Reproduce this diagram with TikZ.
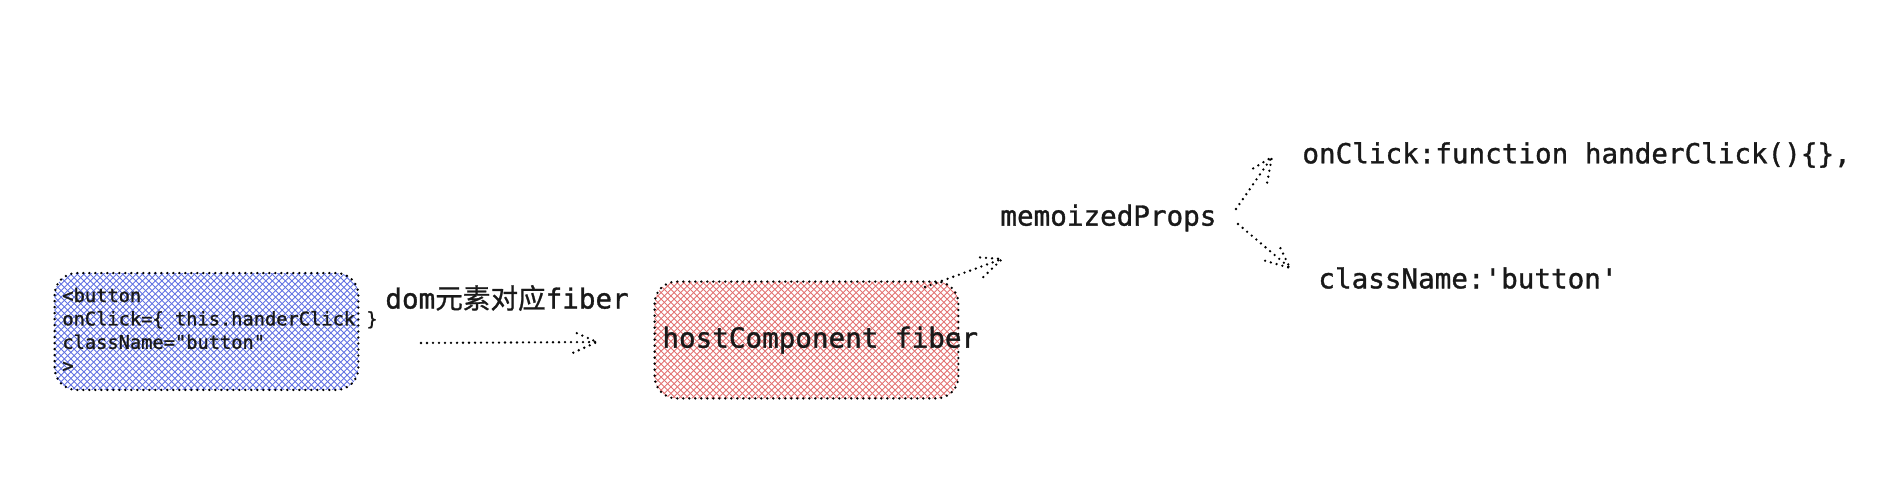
\documentclass[tikz,border=0pt]{standalone}
\usepackage{fontspec}
\newfontfamily\codefont{DejaVu Sans Mono}[FakeBold=1.2]
\newfontfamily\cjk{Noto Sans CJK SC}[FakeBold=0.8]
\usetikzlibrary{calc}
\definecolor{hatchblue}{HTML}{6272E2}
\definecolor{hatchred}{HTML}{E27272}
\begin{document}
\begin{tikzpicture}[x=0.5pt,y=-0.5pt,
  dotline/.style={line width=1.3pt, line cap=round, dash pattern=on 0pt off 3pt},
  boxshape/.style={minimum width=151.5pt, minimum height=58pt, inner sep=0pt},
  hatchline/.style={line width=0.45pt, draw=#1},
  big/.style={font=\codefont\fontsize{13.8pt}{16pt}\selectfont, text=black!90, inner sep=0pt, anchor=west},
  small/.style={font=\codefont\fontsize{9.35pt}{11.7pt}\selectfont, text=black!90, inner sep=0pt, anchor=west, align=left},
  arrowhead/.style={dotline}
]
\useasboundingbox (0,0) rectangle (1898,488);
% boxes
\node[boxshape] (dom) at (206.5,331.5) {};
\node[boxshape] (host) at (806.5,340) {};
\foreach \b/\c in {dom/hatchblue,host/hatchred}{
  \begin{scope}
    \clip[rounded corners=11pt] (\b.north west) rectangle (\b.south east);
    \foreach \i in {-20,...,66}{
      \draw[hatchline=\c] ($(\b.north west)+(\i*6.5,-2)$) -- ++(124,124);
      \draw[hatchline=\c] ($(\b.north west)+(\i*6.5,-2)$) -- ++(-124,124);
    }
  \end{scope}
  \draw[dotline, rounded corners=11pt] (\b.north west) rectangle (\b.south east);
}
% texts
\node[small] (domtext) at (62,330) {<button\\onClick=\{ this.handerClick \}\\className="button"\\>};
\node[big] (hosttext) at (662,340) {hostComponent fiber};
\node[big] (label) at (385,298) {dom{\cjk 元素对应}fiber};
\node[big] (memo) at (1000,218) {memoizedProps};
\node[big] (onclick) at (1302,155) {onClick:function handerClick()\{\},};
\node[big] (cls) at (1318,278) {className:'button'};
% connector end points
\coordinate (a1s) at (421,343);
\coordinate (a1e) at (597,342);
\coordinate (a2s) at (925,287);
\coordinate (a2e) at (1002,259);
\coordinate (a3s) at (1236,209);
\coordinate (a3e) at (1272,157);
\coordinate (a4s) at (1238,224);
\coordinate (a4e) at (1290,268);
\foreach \s/\e in {a1s/a1e,a2s/a2e,a3s/a3e,a4s/a4e}{
  \draw[dotline] (\s) -- (\e);
  \draw[arrowhead] ($(\e)!13pt!24:(\s)$) -- (\e) -- ($(\e)!13pt!-24:(\s)$);
}
\end{tikzpicture}
\end{document}
